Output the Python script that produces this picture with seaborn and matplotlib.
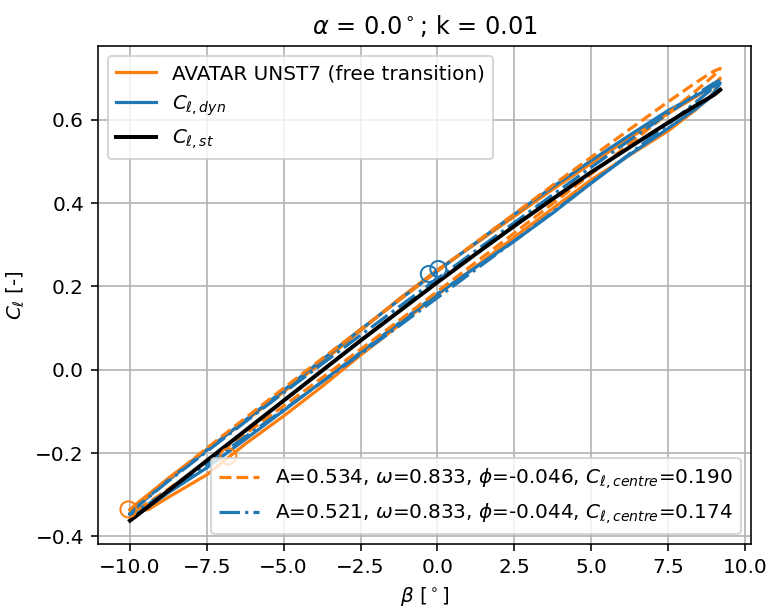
import matplotlib
matplotlib.use("Agg")
import matplotlib.pyplot as plt
import seaborn as sns
import numpy as np

# ---- data ----
beta = [-10, -9.8, -9.4, -8.75, -7.5, -6.25, -5, -3.75, -2.5, -1.25, 0,
        1.25, 2.5, 3.75, 5, 6.25, 7.5, 8.4, 8.8, 9.0, 9.2]

cl_static = [-0.362, -0.351, -0.328, -0.290, -0.218, -0.146, -0.074, -0.002,
             0.070, 0.140, 0.210, 0.278, 0.345, 0.410, 0.474, 0.534, 0.593,
             0.634, 0.651, 0.660, 0.672]

avatar_upper = [-0.336, -0.322, -0.299, -0.260, -0.191, -0.123, -0.053, 0.018,
                0.094, 0.170, 0.240, 0.303, 0.368, 0.433, 0.495, 0.556, 0.615,
                0.655, 0.674, 0.686, 0.700]
avatar_lower = [-0.336, -0.341, -0.335, -0.306, -0.252, -0.178, -0.111, -0.040,
                0.035, 0.107, 0.180, 0.248, 0.318, 0.387, 0.456, 0.515, 0.573,
                0.624, 0.650, 0.667, 0.700]

dyn_upper = [-0.346, -0.330, -0.305, -0.265, -0.193, -0.121, -0.049, 0.024,
             0.097, 0.167, 0.237, 0.305, 0.373, 0.439, 0.502, 0.563, 0.622,
             0.658, 0.673, 0.681, 0.688]
dyn_lower = [-0.346, -0.345, -0.329, -0.295, -0.235, -0.167, -0.098, -0.028,
             0.042, 0.112, 0.182, 0.246, 0.309, 0.376, 0.448, 0.516, 0.579,
             0.626, 0.649, 0.666, 0.688]

fit_avatar_upper = [-0.343, -0.327, -0.302, -0.262, -0.188, -0.116, -0.044, 0.027,
                    0.097, 0.167, 0.237, 0.306, 0.374, 0.443, 0.510, 0.577, 0.643,
                    0.689, 0.708, 0.717, 0.723]
fit_avatar_lower = [-0.343, -0.337, -0.319, -0.286, -0.221, -0.154, -0.087, -0.019,
                    0.049, 0.118, 0.188, 0.258, 0.328, 0.399, 0.470, 0.542, 0.615,
                    0.669, 0.694, 0.707, 0.723]

fit_dyn_upper = [-0.347, -0.331, -0.306, -0.267, -0.196, -0.125, -0.055, 0.014,
                 0.083, 0.151, 0.219, 0.286, 0.353, 0.420, 0.486, 0.551, 0.615,
                 0.660, 0.679, 0.688, 0.695]
fit_dyn_lower = [-0.347, -0.340, -0.322, -0.290, -0.226, -0.161, -0.096, -0.029,
                 0.038, 0.105, 0.173, 0.241, 0.309, 0.378, 0.448, 0.518, 0.589,
                 0.642, 0.666, 0.679, 0.695]

avatar_start_beta = [-10.05, -6.8]
avatar_start_cl = [-0.335, -0.208]
dyn_start_beta = [-0.28, 0.03]
dyn_start_cl = [0.230, 0.242]

labels_main = ["AVATAR UNST7 (free transition)", r"$C_{\ell, dyn}$", r"$C_{\ell, st}$"]
labels_fit = [r"A=0.534, $\omega$=0.833, $\phi$=-0.046, $C_{\ell, centre}$=0.190",
              r"A=0.521, $\omega$=0.833, $\phi$=-0.044, $C_{\ell, centre}$=0.174"]

ORANGE = "#ff7f0e"
BLUE = "#1f77b4"

def loop(upper, lower):
    xs = list(beta) + list(beta[::-1])
    ys = list(upper) + list(lower[::-1])
    return xs, ys

plt.rcParams["font.family"] = ["DejaVu Sans"]
plt.rcParams["font.size"] = 10

fig = plt.figure(figsize=(769 / 144, 608 / 144), dpi=144)
ax = fig.add_axes([0.1274, 0.1053, 0.8492, 0.819])

x, y = loop(avatar_upper, avatar_lower)
sns.lineplot(x=x, y=y, sort=False, estimator=None, color=ORANGE, lw=1.6, ax=ax)
h_av = ax.lines[-1]
x, y = loop(dyn_upper, dyn_lower)
sns.lineplot(x=x, y=y, sort=False, estimator=None, color=BLUE, lw=1.6, ax=ax)
h_dyn = ax.lines[-1]
x, y = loop(fit_avatar_upper, fit_avatar_lower)
sns.lineplot(x=x, y=y, sort=False, estimator=None, color=ORANGE, lw=1.6,
             linestyle="--", ax=ax)
h_fa = ax.lines[-1]
x, y = loop(fit_dyn_upper, fit_dyn_lower)
sns.lineplot(x=x, y=y, sort=False, estimator=None, color=BLUE, lw=1.6,
             linestyle="-.", ax=ax)
h_fd = ax.lines[-1]
sns.lineplot(x=beta, y=cl_static, sort=False, estimator=None, color="black",
             lw=2.0, ax=ax)
h_st = ax.lines[-1]

sns.scatterplot(x=avatar_start_beta, y=avatar_start_cl, marker="o", s=64,
                facecolor="none", edgecolor=ORANGE, linewidth=1.0, ax=ax, zorder=3)
sns.scatterplot(x=dyn_start_beta, y=dyn_start_cl, marker="o", s=64,
                facecolor="none", edgecolor=BLUE, linewidth=1.0, ax=ax, zorder=3)

ax.set_xlim(-11.04, 10.2)
ax.set_ylim(-0.418, 0.777)
ax.set_xticks(np.arange(-10, 10.01, 2.5))
ax.set_yticks([-0.4, -0.2, 0.0, 0.2, 0.4, 0.6])
ax.grid(True, color="#b0b0b0", lw=0.8)

ax.set_title(r"$\alpha$ = 0.0$^\circ$; k = 0.01", fontsize=12)
ax.set_xlabel(r"$\beta$ [$^\circ$]")
ax.set_ylabel(r"$C_\ell$ [-]")

leg1 = ax.legend([h_av, h_dyn, h_st], labels_main, loc="upper left")
leg1.set_zorder(6)
ax.add_artist(leg1)
leg2 = ax.legend([h_fa, h_fd], labels_fit, loc="lower right")
leg2.set_zorder(6)

fig.savefig("out.png", dpi=144)
